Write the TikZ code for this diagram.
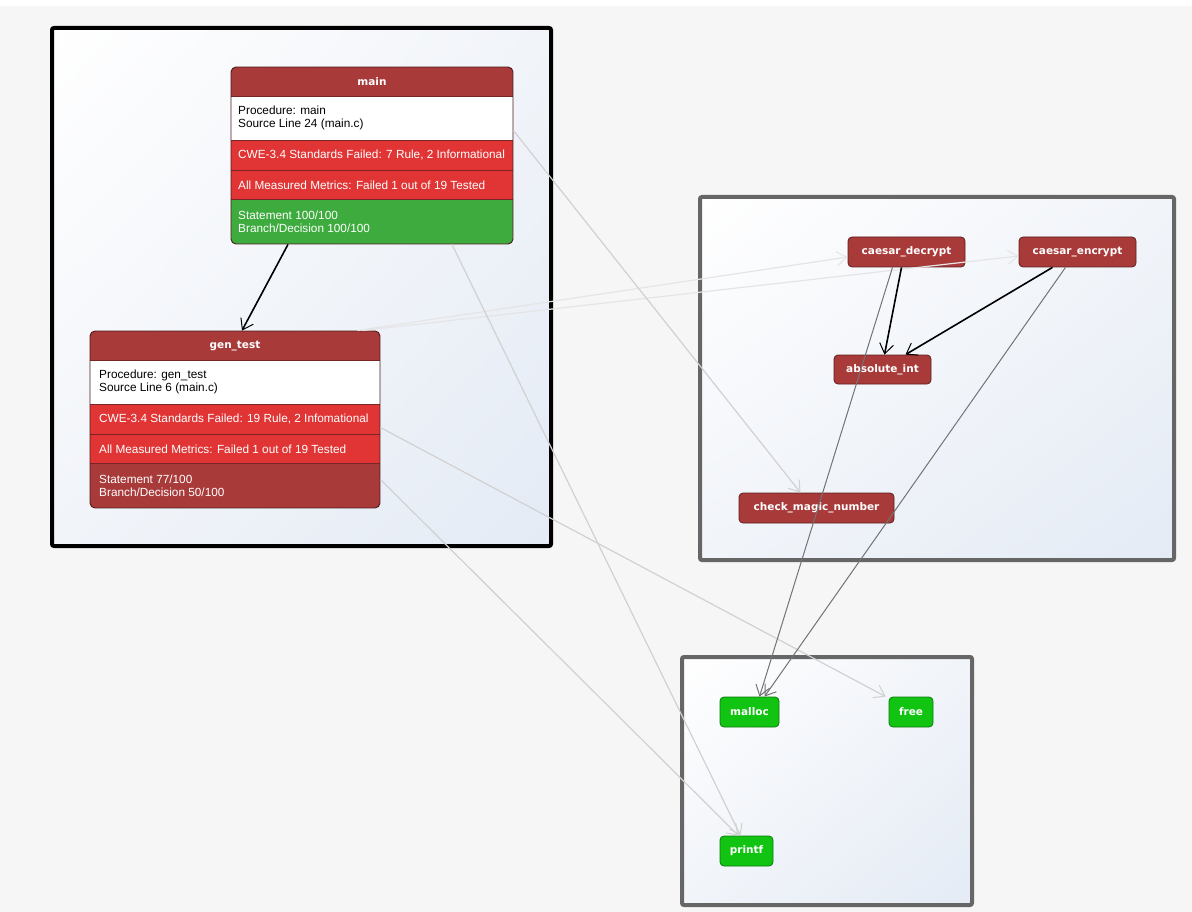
\documentclass[tikz,border=0pt]{standalone}
\usepackage{fontspec}
\setmainfont{Liberation Sans}
\newfontfamily\lblfont{DejaVu Sans}
\usetikzlibrary{arrows.meta,calc,shadings}
\definecolor{bgc}{HTML}{F6F6F6}
\definecolor{clfill}{HTML}{E4EBF5}
\definecolor{clmid}{HTML}{F1F4F9}
\definecolor{hdrred}{HTML}{A93A3A}
\definecolor{cwered}{HTML}{E13535}
\definecolor{okgreen}{HTML}{3DAB3D}
\definecolor{nborder}{HTML}{5E2020}
\definecolor{gborder}{HTML}{0B7A0B}
\definecolor{gfill}{HTML}{12C412}
\definecolor{clgray}{HTML}{666666}
\definecolor{sepline}{HTML}{7A2525}
\tikzset{
  cluster/.style={line width=4pt, rounded corners=2pt},
  clshade/.style={upper left=white, upper right=clmid, lower left=clmid, lower right=clfill},
  fnode/.style={draw=nborder, fill=hdrred, rounded corners=4pt, line width=0.8pt, text=white,
    font=\lblfont\fontsize{10.5}{12}\selectfont\bfseries, inner sep=0pt},
  gnode/.style={draw=gborder, fill=gfill, rounded corners=4pt, line width=0.8pt, text=white,
    font=\lblfont\fontsize{10.5}{12}\selectfont\bfseries, inner sep=0pt},
  bigbox/.style={draw=nborder!80!black, rounded corners=5pt, line width=0.9pt, inner sep=0pt},
  bandtxt/.style={anchor=west, align=left, text=white, font=\fontsize{11.8}{13}\selectfont, inner sep=0pt},
  whitetxt/.style={anchor=west, align=left, text=black, font=\fontsize{11.8}{13}\selectfont, inner sep=0pt},
  titletxt/.style={text=white, font=\lblfont\fontsize{10.5}{12}\selectfont\bfseries, inner sep=0pt},
  tip/.style={-{Straight Barb[length=10pt,width=14pt,line width=1pt]}},
  strong/.style={tip, line width=1.6pt, black},
  midedge/.style={tip, line width=1pt, draw=black!55},
  faint/.style={tip, line width=1.2pt, draw=black!18},
  fainter/.style={tip, line width=1.2pt, draw=black!10},
}
\begin{document}
\begin{tikzpicture}[x=1pt,y=-1pt]
\useasboundingbox (0,0) rectangle (1192,912);
\fill[bgc] (0,0) rectangle (1192,912);
\fill[white] (0,0) rectangle (1192,6);
% clusters
\shade[clshade] (52,28) rectangle (551,546);
\draw[cluster, draw=black] (52,28) rectangle (551,546);
\shade[clshade] (700,197) rectangle (1174,560);
\draw[cluster, draw=clgray] (700,197) rectangle (1174,560);
\shade[clshade] (682,657) rectangle (972,905);
\draw[cluster, draw=clgray] (682,657) rectangle (972,905);

% big node main
\begin{scope}
\clip[rounded corners=5pt] (231,67) rectangle (513,244);
\fill[hdrred] (231,67) rectangle (513,96);
\fill[white] (231,96) rectangle (513,140);
\fill[cwered] (231,140) rectangle (513,199);
\fill[okgreen] (231,199) rectangle (513,244);
\draw[sepline, line width=0.8pt] (231,96) -- (513,96) (231,140) -- (513,140) (231,170) -- (513,170) (231,199) -- (513,199);
\end{scope}
\node[bigbox, minimum width=282pt, minimum height=177pt] (main) at (372,155.5) {};
\node[titletxt] (mainT) at (372,82) {main};
\node[whitetxt] (mainP) at (238,118) {Procedure: main\\Source Line 24 (main.c)};
\node[bandtxt] (mainC) at (238,155) {CWE-3.4 Standards Failed: 7 Rule, 2 Informational};
\node[bandtxt] (mainM) at (238,185) {All Measured Metrics: Failed 1 out of 19 Tested};
\node[bandtxt] (mainS) at (238,221.5) {Statement 100/100\\Branch/Decision 100/100};

% big node gen_test
\begin{scope}
\clip[rounded corners=5pt] (90,331) rectangle (380,508);
\fill[hdrred] (90,331) rectangle (380,360);
\fill[white] (90,360) rectangle (380,404);
\fill[cwered] (90,404) rectangle (380,463);
\fill[hdrred] (90,463) rectangle (380,508);
\draw[sepline, line width=0.8pt] (90,360) -- (380,360) (90,404) -- (380,404) (90,434) -- (380,434) (90,463) -- (380,463);
\end{scope}
\node[bigbox, minimum width=290pt, minimum height=177pt] (gen) at (235,419.5) {};
\node[titletxt] (genT) at (235,346) {gen\_test};
\node[whitetxt] (genP) at (99,382) {Procedure: gen\_test\\Source Line 6 (main.c)};
\node[bandtxt] (genC) at (99,419) {CWE-3.4 Standards Failed: 19 Rule, 2 Infomational};
\node[bandtxt] (genM) at (99,449) {All Measured Metrics: Failed 1 out of 19 Tested};
\node[bandtxt] (genS) at (99,485.5) {Statement 77/100\\Branch/Decision 50/100};

% small nodes
\node[fnode, minimum width=117pt, minimum height=30pt] (dec) at (906.5,252) {caesar\_decrypt};
\node[fnode, minimum width=117pt, minimum height=30pt] (enc) at (1077.5,252) {caesar\_encrypt};
\node[fnode, minimum width=97pt, minimum height=29pt] (abs) at (882.5,369.5) {absolute\_int};
\node[fnode, minimum width=155pt, minimum height=30pt] (chk) at (816.5,508) {check\_magic\_number};
\node[gnode, minimum width=59pt, minimum height=30pt] (malloc) at (749.5,712) {malloc};
\node[gnode, minimum width=44pt, minimum height=30pt] (free) at (911,712) {free};
\node[gnode, minimum width=53pt, minimum height=30pt] (printf) at (746.5,851) {printf};

% edges (faint ones first)
\draw[fainter] ([xshift=-23pt]gen.north east) -- ([yshift=-5pt]dec.west);
\draw[fainter] ([xshift=-18pt]gen.north east) -- ([yshift=-4pt]enc.west);
\draw[faint] ([yshift=-64pt]main.north east) -- ([xshift=-16pt]chk.north);
\draw[faint] ([xshift=80pt]main.south) -- ([xshift=-6pt]printf.north);
\draw[faint] ([yshift=-97pt]gen.north east) -- ([xshift=-3pt]free.north west);
\draw[faint] ([yshift=-149pt]gen.north east) -- ([xshift=-8pt]printf.north);
\draw[midedge] ([xshift=-14pt]dec.south) -- ([xshift=10pt]malloc.north);
\draw[midedge] ([xshift=-12pt]enc.south) -- ([xshift=15pt]malloc.north);
\draw[strong] ([xshift=-84pt]main.south) -- ([xshift=7pt]gen.north);
\draw[strong] ([xshift=-5pt]dec.south) -- ([xshift=2pt]abs.north);
\draw[strong] ([xshift=-25pt]enc.south) -- ([xshift=23pt]abs.north);
\end{tikzpicture}
\end{document}
